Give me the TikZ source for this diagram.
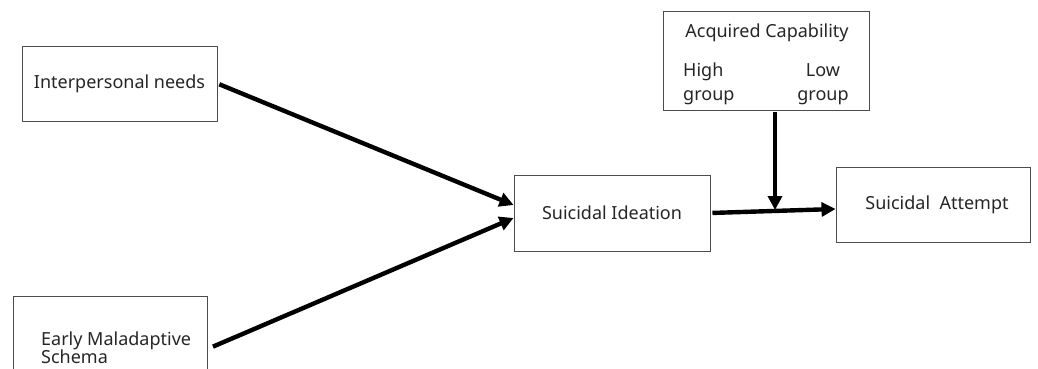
\documentclass[tikz,border=0pt]{standalone}
\usepackage{fontspec}
\setmainfont{Noto Sans}
\usetikzlibrary{arrows.meta}
\begin{document}
\begin{tikzpicture}[x=1pt,y=-1pt,
  box/.style={draw=black!70, line width=0.9pt, rectangle, inner sep=0pt, text=black!85, font=\fontsize{18}{20}\selectfont},
  lbl/.style={inner sep=0pt, text=black!85, font=\fontsize{18}{24}\selectfont},
  conn/.style={line width=4.4pt, -{Triangle[length=14pt,width=14pt]}}]
\useasboundingbox (0,0) rectangle (1038,369);
\clip (0,0) rectangle (1038,369);
\fill[white] (0,0) rectangle (1038,369);
% boxes
\node[box, minimum width=195pt, minimum height=75pt] (ip) at (119.5,83.5) {Interpersonal needs};
\node[box, minimum width=194pt, minimum height=106pt] (ems) at (110,349) {};
\node[lbl, font=\fontsize{18}{18}\selectfont, align=left, anchor=west] (emst) at (41,348) {Early Maladaptive\\Schema};
\node[box, minimum width=196pt, minimum height=76pt] (si) at (612,213) {Suicidal Ideation};
\node[box, minimum width=194pt, minimum height=75pt] (at) at (933,204.5) {\hspace*{8pt}Suicidal\ \ Attempt};
\node[box, minimum width=206pt, minimum height=99pt] (ac) at (766,60.5) {};
\node[lbl] (act) at (767,33) {Acquired Capability};
\node[lbl, align=left, anchor=west] (high) at (683,84) {High\\group};
\node[lbl, align=center] (low) at (823,84) {Low\\group};
% connectors
\coordinate (j) at (775,210);
\draw[conn, shorten <=2pt] (ip.east) -- ([yshift=8pt]si.west);
\draw[conn, shorten <=6pt] (ems.east) -- ([yshift=-5pt]si.west);
\draw[conn, shorten <=2pt] (si.east) -- ([yshift=-4.5pt]at.west);
\draw[conn, shorten <=2pt] ([xshift=9pt]ac.south) -- (j);
\end{tikzpicture}
\end{document}
